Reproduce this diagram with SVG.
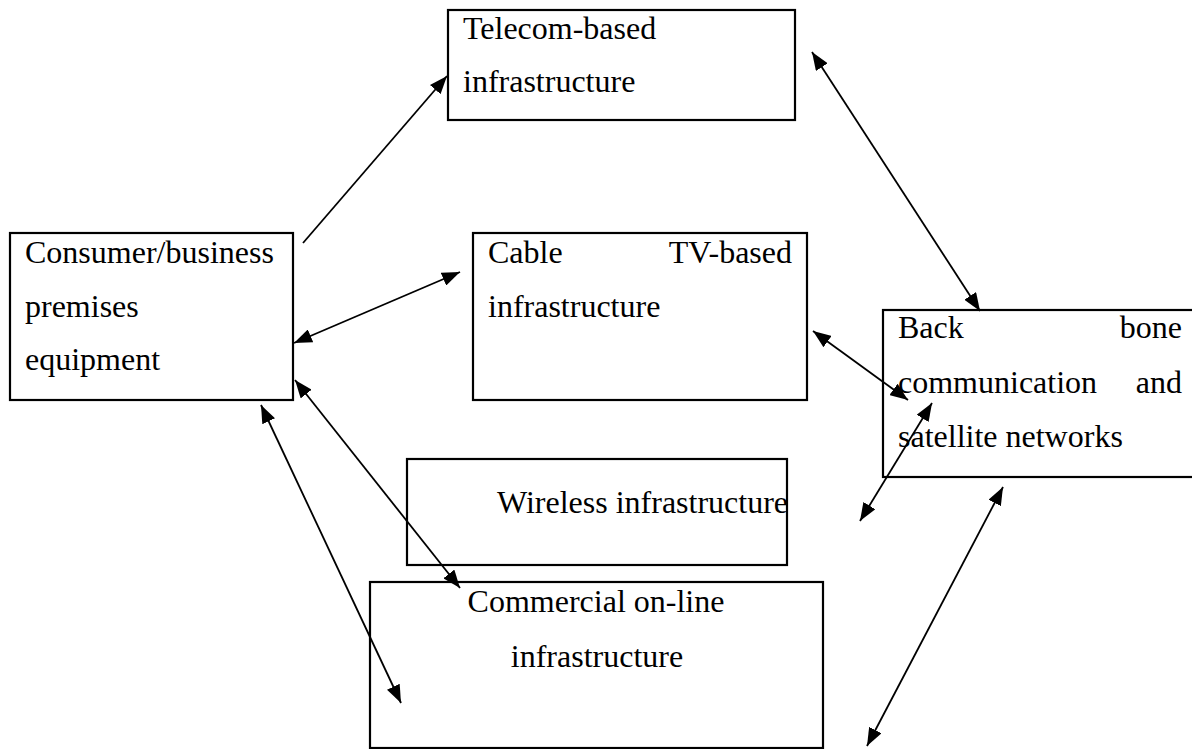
<svg xmlns="http://www.w3.org/2000/svg" width="1192" height="749" viewBox="0 0 1192 749">
  <style>
    .box { fill: #ffffff; stroke: #000000; stroke-width: 2.2; }
    .lbl { font-family: "Liberation Serif", "Times New Roman", serif; font-size: 32px; fill: #000000; }
    .mid { text-anchor: middle; }
    .end { text-anchor: end; }
    .link { stroke: #000000; stroke-width: 1.8; fill: none; }
    .one { marker-end: url(#head); }
    .two { marker-start: url(#head); marker-end: url(#head); }
  </style>
  <defs>
    <!-- solid triangular arrowhead shared by every connector end -->
    <marker id="head" viewBox="0 0 18 14" refX="18" refY="7" markerWidth="18" markerHeight="14" markerUnits="userSpaceOnUse" orient="auto-start-reverse">
      <path d="M0,0 L18,7 L0,14 z" fill="#000000"/>
    </marker>
  </defs>

  <rect width="1192" height="749" fill="#ffffff"/>

  <g id="telecom">
    <rect class="box" x="448" y="10" width="347" height="110"/>
    <text class="lbl" x="463" y="39">Telecom-based</text>
    <text class="lbl" x="463" y="92">infrastructure</text>
  </g>

  <g id="consumer">
    <rect class="box" x="10" y="233" width="283" height="167"/>
    <text class="lbl" x="25" y="263">Consumer/business</text>
    <text class="lbl" x="25" y="317">premises</text>
    <text class="lbl" x="25" y="370">equipment</text>
  </g>

  <g id="cable">
    <rect class="box" x="473" y="233" width="334" height="167"/>
    <text class="lbl" x="488" y="263">Cable</text>
    <text class="lbl end" x="792" y="263">TV-based</text>
    <text class="lbl" x="488" y="317">infrastructure</text>
  </g>

  <g id="backbone">
    <rect class="box" x="883" y="310" width="312" height="167"/>
    <text class="lbl" x="898" y="338">Back</text>
    <text class="lbl end" x="1182" y="338">bone</text>
    <text class="lbl" x="898" y="393">communication</text>
    <text class="lbl end" x="1182" y="393">and</text>
    <text class="lbl" x="898" y="447">satellite networks</text>
  </g>

  <g id="wireless">
    <rect class="box" x="407" y="459" width="380" height="106"/>
    <text class="lbl" x="497" y="513">Wireless infrastructure</text>
  </g>

  <g id="commercial">
    <rect class="box" x="370" y="582" width="453" height="166"/>
    <text class="lbl mid" x="596" y="612">Commercial on-line</text>
    <text class="lbl mid" x="597" y="667">infrastructure</text>
  </g>

  <g id="connectors">
    <line class="link one" x1="303" y1="243" x2="447" y2="76"/>
    <line class="link two" x1="812" y1="52" x2="980" y2="311"/>
    <line class="link two" x1="294" y1="343" x2="460" y2="272"/>
    <line class="link two" x1="295" y1="380" x2="460" y2="588"/>
    <line class="link two" x1="261" y1="405" x2="401" y2="703"/>
    <line class="link two" x1="813" y1="331" x2="908" y2="400"/>
    <line class="link two" x1="932" y1="403" x2="860" y2="521"/>
    <line class="link two" x1="1003" y1="487" x2="867" y2="746"/>
  </g>
</svg>
